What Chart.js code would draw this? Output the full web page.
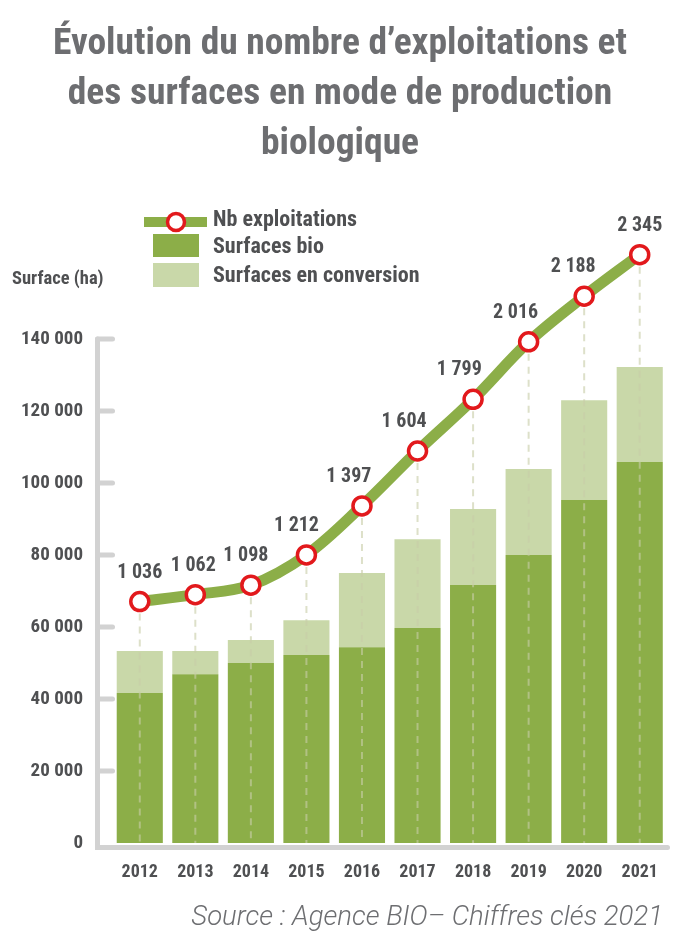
<!DOCTYPE html>
<html><head><meta charset="utf-8">
<script src="https://cdn.jsdelivr.net/npm/chart.js@4.4.0/dist/chart.umd.min.js"></script>
<style>
html,body{margin:0;padding:0;background:#fff;}
#wrap{position:relative;width:680px;height:932px;overflow:hidden;}
#title{position:absolute;left:0;top:16px;width:680px;text-align:center;font-family:"Roboto Condensed",sans-serif;font-weight:bold;font-size:37.5px;line-height:50px;color:#6d6e71;}
#source{position:absolute;right:17px;top:899px;font-family:Roboto,sans-serif;font-style:italic;font-weight:300;font-size:27.5px;color:#6d6e71;white-space:nowrap;}
canvas{position:absolute;left:0;top:0;}
</style></head>
<body><div id="wrap"><canvas id="c" width="680" height="932"></canvas><div id="title">Évolution du nombre d’exploitations et<br>des surfaces en mode de production<br>biologique</div><div id="source">Source : Agence BIO– Chiffres clés 2021</div></div>
<script>
const years = ['2012','2013','2014','2015','2016','2017','2018','2019','2020','2021'];
const surfacesBio = [41700,46900,50000,52200,54400,59700,71700,80000,95300,105800];
const surfacesConversion = [11600,6400,6400,9700,20600,24700,21100,23900,27700,26400];
const nbExploitations = [1036,1062,1098,1212,1397,1604,1799,2016,2188,2345];
const yTicks = [0,20000,40000,60000,80000,100000,120000,140000];

const GREEN = '#8cae48';
const LIGHT = '#c9d8a9';
const RED = '#e2191c';
const TXT = '#4f5052';
const AXIS = '#d2d2d2';
const COND = '"Roboto Condensed",sans-serif';
const fmt = v => String(v).replace(/\B(?=(\d{3})+(?!\d))/g, ' ');

const decor = {
  id:'decor',
  beforeDatasetsDraw(chart){
    const c = chart.ctx, ys = chart.scales.y, a = chart.chartArea;
    const ax = a.left - 14.5, bottom = a.bottom + 4.5;
    c.save();
    c.strokeStyle = AXIS; c.lineWidth = 5; c.lineCap = 'round';
    c.beginPath(); c.moveTo(ax, ys.getPixelForValue(yTicks[yTicks.length-1])); c.lineTo(ax, bottom); c.lineTo(a.right, bottom); c.stroke();
    yTicks.forEach(v => { if (v===0) return; const y = ys.getPixelForValue(v); c.beginPath(); c.moveTo(ax, y); c.lineTo(ax+15, y); c.stroke(); });
    c.restore();
  },
  beforeDatasetDraw(chart, args){
    if (args.index !== 0) return;
    const c = chart.ctx, a = chart.chartArea;
    c.save();
    c.strokeStyle = 'rgba(200,205,168,0.62)'; c.lineWidth = 2; c.setLineDash([7,6]);
    args.meta.data.forEach(p => { c.beginPath(); c.moveTo(p.x, p.y + 12); c.lineTo(p.x, a.bottom); c.stroke(); });
    c.restore();
  },
  afterDatasetsDraw(chart){
    const c = chart.ctx, pts = chart.getDatasetMeta(0).data;
    c.save();
    c.font = 'bold 20px ' + COND; c.fillStyle = TXT; c.textAlign = 'center'; c.textBaseline = 'alphabetic';
    pts.forEach((p, i) => {
      let dx = 0;
      if (i > 0 && i < pts.length - 1) { const s = (pts[i-1].y - pts[i+1].y) / (pts[i+1].x - pts[i-1].x); dx = -Math.max(0, s) * 14; }
      c.fillText(fmt(nbExploitations[i]), p.x + dx, p.y - 24);
    });
    c.restore();
  },
  afterDraw(chart){
    const c = chart.ctx;
    c.save();
    c.fillStyle = GREEN; c.fillRect(144, 217, 63, 10);
    c.beginPath(); c.arc(176, 222, 8.5, 0, Math.PI*2); c.fillStyle = '#fff'; c.fill(); c.lineWidth = 3.5; c.strokeStyle = RED; c.stroke();
    c.fillStyle = GREEN; c.fillRect(153, 234, 46, 23);
    c.fillStyle = LIGHT; c.fillRect(153, 263, 46, 24);
    c.fillStyle = TXT; c.textBaseline = 'middle'; c.textAlign = 'left';
    c.font = 'bold 22px ' + COND;
    c.fillText(chart.data.datasets[0].label, 213, 220);
    c.fillText(chart.data.datasets[1].label, 213, 247);
    c.fillText(chart.data.datasets[2].label, 213, 276);
    c.font = 'bold 18.5px ' + COND;
    c.fillText('Surface (ha)', 12, 279);
    c.restore();
  }
};

new Chart(document.getElementById('c'), {
  type:'bar',
  data:{ labels: years, datasets:[
    { type:'line', label:'Nb exploitations', data: nbExploitations, yAxisID:'y1', order:0,
      borderColor: GREEN, borderWidth: 11, tension: 0.35, fill:false,
      pointRadius: 9, pointBackgroundColor:'#fff', pointBorderColor: RED, pointBorderWidth: 3.5 },
    { label:'Surfaces bio', data: surfacesBio, backgroundColor: GREEN, yAxisID:'y', order:1 },
    { label:'Surfaces en conversion', data: surfacesConversion, backgroundColor: LIGHT, yAxisID:'y', order:1 }
  ]},
  options:{
    responsive:false, animation:false, events:[],
    datasets:{ bar:{ categoryPercentage:1, barPercentage:0.83 } },
    layout:{ padding:{ top:195, left:0, right:0, bottom:0 } },
    plugins:{ legend:{ display:false }, tooltip:{ enabled:false } },
    scales:{
      x:{ stacked:true, grid:{ display:false, drawTicks:false }, border:{ display:false },
          ticks:{ padding:19, color:TXT, font:{ family:COND, size:18, weight:'bold' } },
          afterFit(s){ s.height = 89; } },
      y:{ stacked:true, min:0, max:180000,
          afterBuildTicks(s){ s.ticks = yTicks.map(v => ({ value:v })); },
          grid:{ display:false, drawTicks:false }, border:{ display:false },
          ticks:{ padding:29, color:TXT, font:{ family:COND, size:19, weight:'bold' }, callback: v => fmt(v) },
          afterFit(s){ s.width = 112; } },
      y1:{ display:false, min:125, max:2570 }
    }
  },
  plugins:[decor]
});
</script>
</body></html>
